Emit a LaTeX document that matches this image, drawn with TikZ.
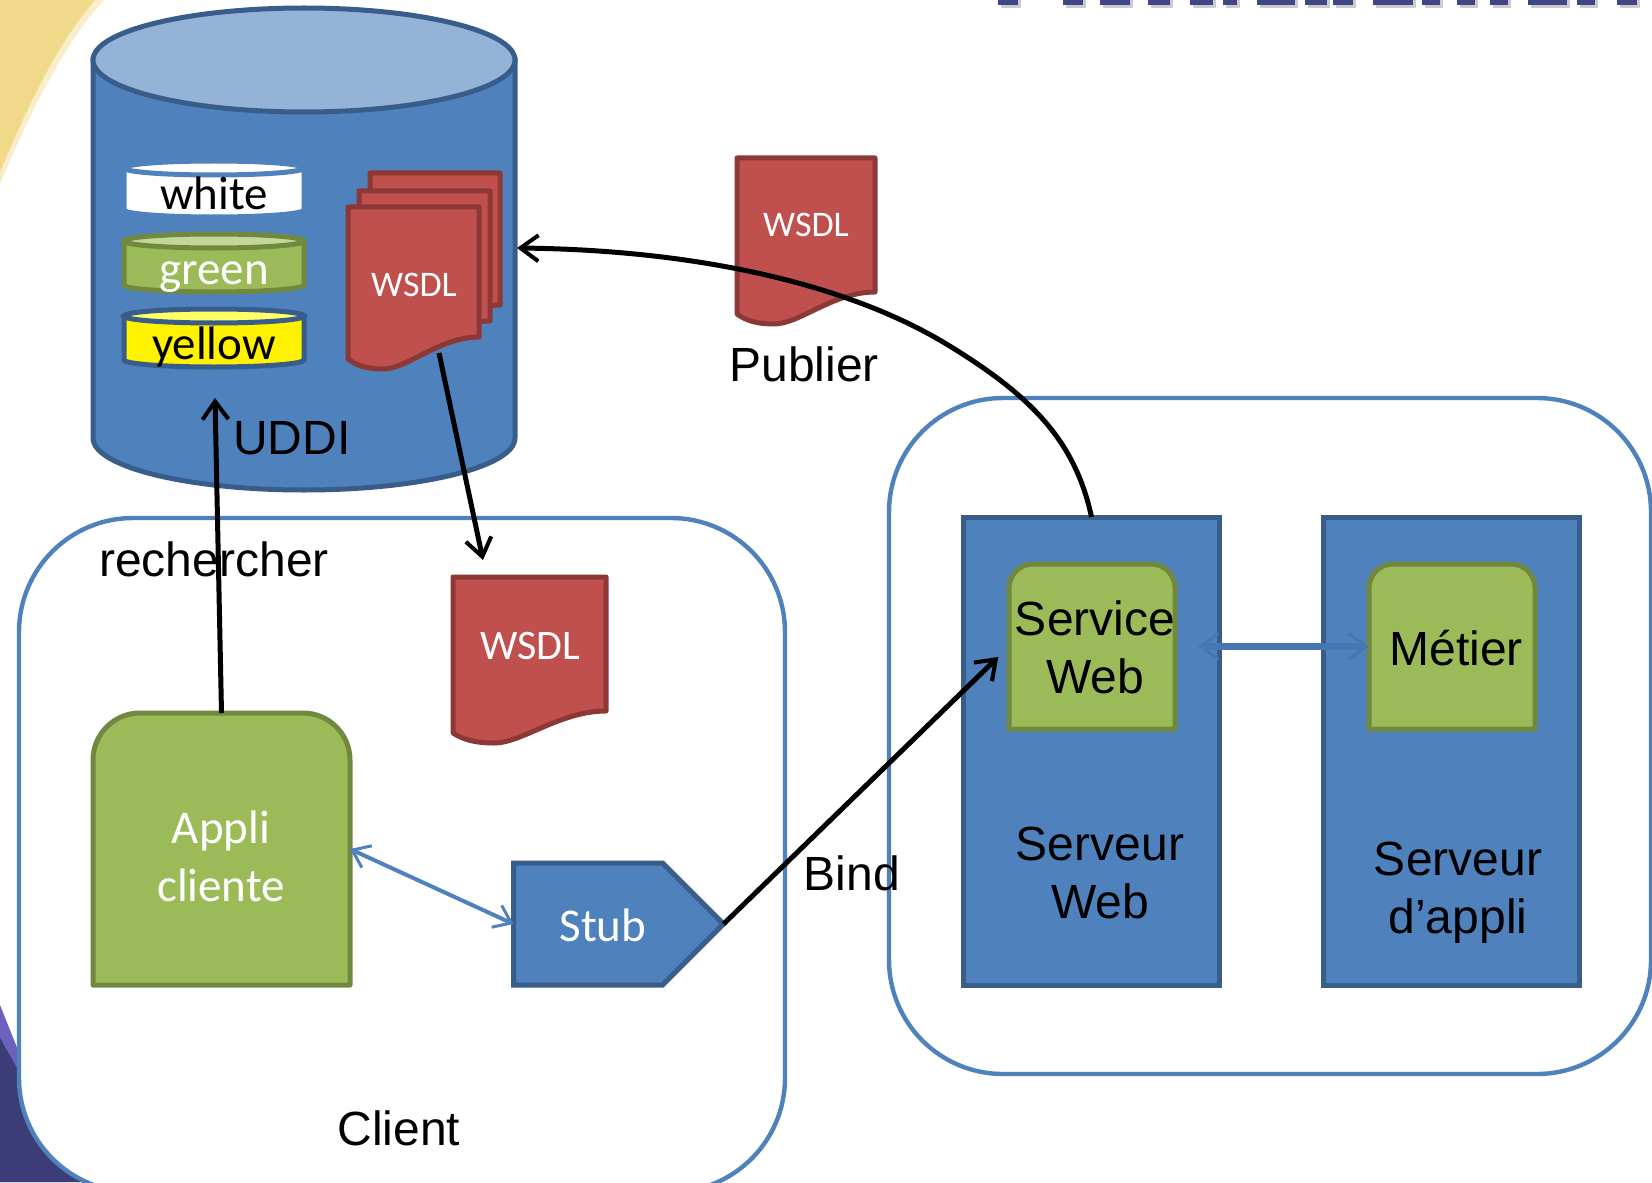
\documentclass[tikz,border=0pt]{standalone}
\usepackage{fontspec}
\setmainfont{Carlito}
\newfontfamily\arialfont{Liberation Sans}
\usetikzlibrary{arrows.meta, calc, shapes.symbols}

\definecolor{bluefill}{HTML}{4F81BD}
\definecolor{blueline}{HTML}{385D8A}
\definecolor{bluetop}{HTML}{95B3D7}
\definecolor{blueshaft}{HTML}{4677B3}
\definecolor{greenfill}{HTML}{9BBB59}
\definecolor{greenline}{HTML}{71893F}
\definecolor{greentop}{HTML}{C4D79B}
\definecolor{redfill}{HTML}{C0504D}
\definecolor{redline}{HTML}{8C3836}
\definecolor{yellowtop}{HTML}{FFFF66}
\definecolor{sandback}{HTML}{F1D98A}
\definecolor{navyback}{HTML}{3C3C78}
\definecolor{violetback}{HTML}{6C62BE}
\definecolor{titleink}{HTML}{3F4586}

\tikzset{
    area/.style={inner sep=0pt, outer sep=0pt},
    groupbox/.style={area, draw=bluefill, fill=white, line width=2.2pt, rounded corners=57pt},
    serverbox/.style={area, draw=blueline, fill=bluefill, line width=2.5pt, minimum width=128pt, minimum height=234pt},
    greenbox/.style={draw=greenline, fill=greenfill, line width=2.5pt, line join=round},
    pagebox/.style={draw=redline, fill=redfill, line width=2.5pt, line join=round},
    diskarea/.style={area, minimum width=90pt},
    bigtext/.style={inner sep=0pt, align=center, font=\fontsize{23.5}{29}\selectfont},
    arialtext/.style={inner sep=0pt, align=center, font=\arialfont\fontsize{24}{29}\selectfont},
    pagetext/.style={inner sep=0pt, text=white, font=\fontsize{18}{22}\selectfont},
    blackarrow/.style={draw=black, line width=2.5pt, -{Straight Barb[length=9pt, width=13pt, line width=2pt]}},
    bluearrow/.style={draw=bluefill, line width=2pt, {Straight Barb[length=8pt, width=12pt, line width=1.5pt]}-{Straight Barb[length=8pt, width=12pt, line width=1.5pt]}},
    widearrow/.style={draw=blueshaft, line width=3.5pt, {Straight Barb[length=9pt, width=13pt, line width=1.5pt]}-{Straight Barb[length=9pt, width=13pt, line width=1.5pt]}}
}

\newcommand{\wsdlpage}[1]{
    \draw[pagebox] (#1.north west) -- (#1.north east) -- (#1.south east)
        .. controls ($(#1.south east)!.3!(#1.south west)$) and ($(#1.south east)!.55!(#1.south west)+(0,32)$) .. ($(#1.south west)!.27!(#1.south east)+(0,32)$)
        .. controls ($(#1.south west)!.15!(#1.south east)+(0,32)$) and ($(#1.south west)!.07!(#1.south east)+(0,29)$) .. ($(#1.south west)+(0,22)$) -- cycle;
}
\newcommand{\greenpanel}[2]{
    \draw[greenbox] (#1.south west) -- ($(#1.north west)+(0,#2)$) arc[start angle=180, end angle=270, radius=#2]
        -- ($(#1.north east)+(-#2,0)$) arc[start angle=270, end angle=360, radius=#2] -- (#1.south east) -- cycle;
}
\newcommand{\diskshape}[6]{
    \draw[draw=#2, fill=#3, line width=2.5pt] (#1.north west) -- (#1.south west) arc[start angle=180, end angle=0, x radius=#5, y radius=#6] -- (#1.north east) -- cycle;
    \draw[draw=#2, fill=#4, line width=2.5pt] (#1.north) ellipse[x radius=#5, y radius=#6];
}

\begin{document}
\begin{tikzpicture}[x=0.5pt, y=-0.5pt]
    \useasboundingbox (0, 0) rectangle (1652, 1182);
    \clip (0, 0) rectangle (1652, 1182);

    \fill[sandback!45] (0, 0) -- (104, 0) .. controls (66, 42) and (34, 104) .. (0, 184) -- cycle;
    \fill[sandback] (0, 0) -- (95, 0) .. controls (60, 40) and (30, 100) .. (0, 172) -- cycle;
    \fill[violetback] (0, 1005) -- (20, 1055) -- (120, 1182) -- (0, 1182) -- cycle;
    \fill[navyback] (0, 1038) -- (17, 1068) -- (110, 1182) -- (0, 1182) -- cycle;
    \foreach \from/\to in {998/1018, 1063/1083, 1100/1130, 1148/1170, 1190/1213, 1223/1237, 1257/1295, 1305/1327, 1333/1353, 1373/1413, 1422/1440, 1457/1475, 1490/1508, 1528/1567, 1577/1595, 1617/1637} {
        \fill[black!20] (\from+3, 0) rectangle (\to+3, 8);
        \fill[titleink] (\from, 0) rectangle (\to, 5);
    }

    \node[groupbox, minimum width=383pt, minimum height=337pt] (client) at (402, 855) {};
    \node[groupbox, minimum width=381pt, minimum height=338pt] (serveurs) at (1270, 736) {};

    \node[area, minimum width=211pt, minimum height=189pt] (uddi) at (304, 249) {};
    \diskshape{uddi}{blueline}{bluefill}{bluetop}{211}{52}
    \node[arialtext] (uddilabel) at (292, 438) {UDDI};
    \coordinate (uddiport) at (517, 248);
    \coordinate (uddibase) at (215, 398);

    \node[diskarea, minimum height=21pt] (white) at (214, 189) {};
    \node[diskarea, minimum height=22pt] (green) at (214, 263) {};
    \node[diskarea, minimum height=22pt] (yellow) at (214, 338) {};
    \diskshape{white}{bluefill}{white}{white}{90}{7}
    \diskshape{green}{greenline}{greenfill}{greentop}{90}{7}
    \diskshape{yellow}{blueline}{yellow}{yellowtop}{90}{7}
    \node[bigtext, text=black] (whitetext) at (214, 193) {white};
    \node[bigtext, text=white] (greentext) at (214, 277) {green};
    \node[bigtext, text=black] (yellowtext) at (214, 347) {yellow};

    \node[area, minimum width=65pt, minimum height=66pt] (wsdlback) at (435, 239) {};
    \node[area, minimum width=65.5pt, minimum height=65pt] (wsdlmiddle) at (424.5, 256) {};
    \node[area, minimum width=65.5pt, minimum height=65pt] (wsdlfront) at (413.5, 272) {};
    \wsdlpage{wsdlback}
    \wsdlpage{wsdlmiddle}
    \wsdlpage{wsdlfront}
    \node[pagetext] (wsdlfronttext) at (414, 285) {WSDL};
    \coordinate (wsdlout) at (439, 353);

    \node[area, minimum width=69pt, minimum height=67pt] (wsdlpublier) at (806, 225) {};
    \wsdlpage{wsdlpublier}
    \node[pagetext] (wsdlpubliertext) at (806, 225) {WSDL};
    \node[arialtext] (publier) at (804, 364) {Publier};

    \node[area, minimum width=76.5pt, minimum height=67pt] (wsdlclient) at (529.5, 644) {};
    \wsdlpage{wsdlclient}
    \node[pagetext, font=\fontsize{21}{25}\selectfont] (wsdlclienttext) at (530, 646) {WSDL};
    \coordinate (wsdlin) at (483, 560);

    \node[area, minimum width=128.5pt, minimum height=136pt] (appli) at (221.5, 849) {};
    \greenpanel{appli}{47}
    \node[bigtext, text=white] (applitext) at (221, 856) {Appli\\cliente};

    \node[area, signal, signal to=east, signal pointer angle=90, draw=blueline, fill=bluefill, line width=2.5pt, minimum width=105pt, minimum height=61pt] (stub) at (588, 924) {};
    \node[bigtext, text=white] (stubtext) at (603, 925) {Stub};

    \node[serverbox] (serveurweb) at (1091.5, 751) {};
    \node[serverbox] (serveurappli) at (1451.5, 751) {};
    \node[area, minimum width=83pt, minimum height=82.5pt] (serviceweb) at (1092, 646.5) {};
    \node[area, minimum width=83pt, minimum height=82.5pt] (metier) at (1452, 646.5) {};
    \greenpanel{serviceweb}{24}
    \greenpanel{metier}{24}
    \node[arialtext] (servicewebtext) at (1095, 647) {Service\\Web};
    \node[arialtext] (metiertext) at (1456, 648) {Métier};
    \node[arialtext] (serveurwebtext) at (1100, 873) {Serveur\\Web};
    \node[arialtext] (serveurapplitext) at (1458, 893) {Serveur\\d’appli};

    \node[arialtext] (rechercher) at (214, 559) {rechercher};
    \node[arialtext] (bind) at (852, 873) {Bind};
    \node[arialtext] (clienttext) at (399, 1128) {Client};

    \draw[blackarrow] (appli.north) -- (uddibase);
    \draw[blackarrow] (wsdlout) -- (wsdlin);
    \draw[blackarrow] (serveurweb.north) .. controls (1075, 440) and (1030, 395) .. (948, 345) .. controls (850, 285) and (700, 250) .. (uddiport);
    \draw[blackarrow, shorten >=7.5pt] (stub.east) -- (serviceweb.west);
    \draw[bluearrow] (appli.east) -- (stub.west);
    \draw[widearrow, shorten <=11.5pt] (serviceweb.east) -- (metier.west);
\end{tikzpicture}
\end{document}
